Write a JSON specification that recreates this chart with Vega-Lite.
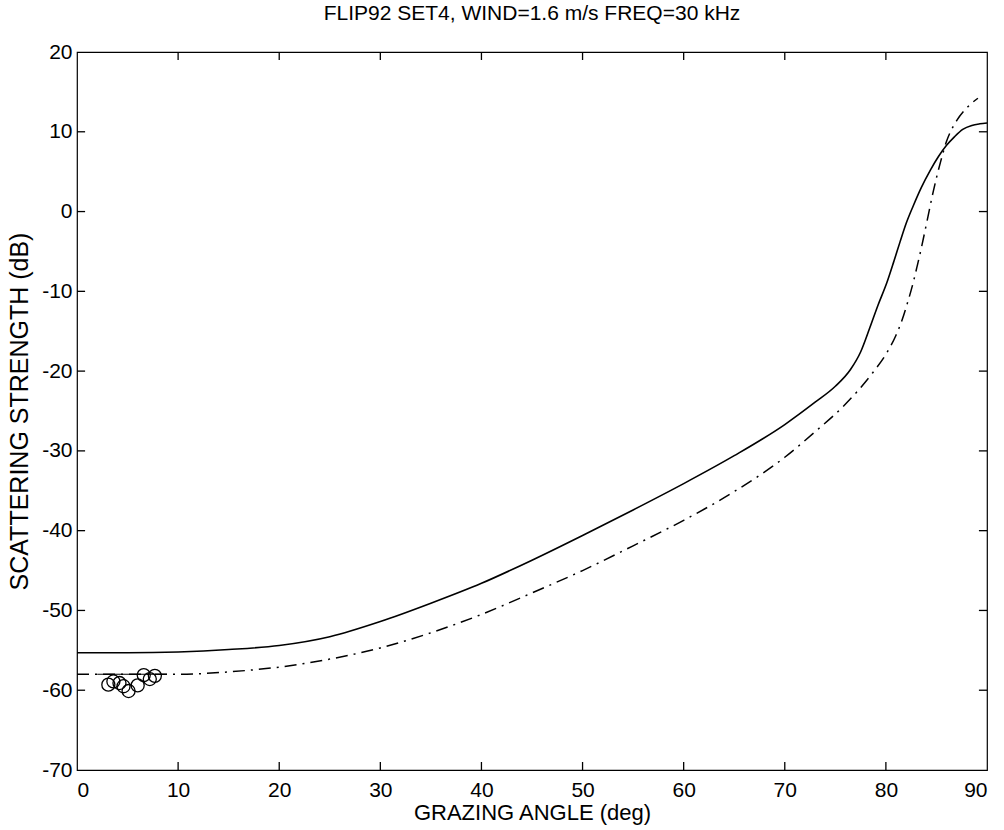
{
  "$schema": "https://vega.github.io/schema/vega-lite/v6.json",
  "width": 910,
  "height": 718,
  "autosize": "none",
  "padding": {"left": 77, "top": 52, "right": 17, "bottom": 60},
  "background": "white",
  "config": {
    "font": "Liberation Sans",
    "view": {"stroke": "black", "strokeWidth": 1.2},
    "axis": {"grid": false, "domain": false, "ticks": false, "labelColor": "black", "titleColor": "black", "labelFontSize": 21, "titleFontWeight": "normal"}
  },
  "title": {"text": "FLIP92 SET4, WIND=1.6 m/s FREQ=30 kHz", "fontSize": 21, "fontWeight": "normal", "font": "Liberation Sans", "color": "black", "offset": 17},
  "datasets": {
    "solid": [
      {"a": 0, "s": -55.3}, {"a": 5, "s": -55.3}, {"a": 10, "s": -55.2}, {"a": 15, "s": -54.9}, {"a": 20, "s": -54.4}, {"a": 25, "s": -53.3}, {"a": 30, "s": -51.4}, {"a": 35, "s": -49.1}, {"a": 40, "s": -46.6}, {"a": 45, "s": -43.7}, {"a": 50, "s": -40.6}, {"a": 55, "s": -37.4}, {"a": 60, "s": -34.1}, {"a": 65, "s": -30.6}, {"a": 70, "s": -26.7}, {"a": 73, "s": -23.9}, {"a": 75, "s": -21.9}, {"a": 76.5, "s": -19.8}, {"a": 77.5, "s": -17.6}, {"a": 78.4, "s": -14.6}, {"a": 79.2, "s": -11.8}, {"a": 80.1, "s": -8.9}, {"a": 80.8, "s": -6.2}, {"a": 81.4, "s": -3.8}, {"a": 82, "s": -1.5}, {"a": 82.7, "s": 0.7}, {"a": 83.5, "s": 3.0}, {"a": 84.4, "s": 5.2}, {"a": 85.2, "s": 6.9}, {"a": 86, "s": 8.3}, {"a": 86.8, "s": 9.4}, {"a": 87.6, "s": 10.3}, {"a": 88.5, "s": 10.8}, {"a": 89.3, "s": 11.0}, {"a": 90, "s": 11.1}
    ],
    "dashdot": [
      {"a": 0, "s": -58.0}, {"a": 5, "s": -58.0}, {"a": 10, "s": -58.0}, {"a": 15, "s": -57.7}, {"a": 20, "s": -57.1}, {"a": 25, "s": -56.1}, {"a": 30, "s": -54.7}, {"a": 35, "s": -52.8}, {"a": 40, "s": -50.5}, {"a": 45, "s": -47.8}, {"a": 50, "s": -45.0}, {"a": 55, "s": -41.9}, {"a": 60, "s": -38.7}, {"a": 65, "s": -35.1}, {"a": 70, "s": -30.8}, {"a": 73, "s": -27.6}, {"a": 75.8, "s": -24.4}, {"a": 78.7, "s": -20.2}, {"a": 80, "s": -17.9}, {"a": 81, "s": -15.5}, {"a": 81.6, "s": -13.6}, {"a": 82.1, "s": -11.6}, {"a": 82.7, "s": -8.9}, {"a": 83.1, "s": -6.8}, {"a": 83.5, "s": -4.6}, {"a": 84.1, "s": -1.0}, {"a": 84.7, "s": 2.6}, {"a": 85.4, "s": 6.2}, {"a": 86, "s": 8.8}, {"a": 86.5, "s": 10.3}, {"a": 87, "s": 11.4}, {"a": 88, "s": 13.0}, {"a": 89.1, "s": 14.2}
    ],
    "fit": [{"a": 2, "s": -58.0}, {"a": 8.9, "s": -58.0}],
    "obs": [
      {"a": 3.1, "s": -59.3}, {"a": 3.6, "s": -58.9}, {"a": 4.2, "s": -59.1}, {"a": 4.6, "s": -59.5}, {"a": 5.1, "s": -60.1}, {"a": 6.0, "s": -59.4}, {"a": 6.6, "s": -58.1}, {"a": 7.2, "s": -58.6}, {"a": 7.7, "s": -58.2}
    ],
    "ticks": [
      {"id": "b10", "a": 10, "s": -70}, {"id": "b10", "a": 10, "s": -69},
      {"id": "b20", "a": 20, "s": -70}, {"id": "b20", "a": 20, "s": -69},
      {"id": "b30", "a": 30, "s": -70}, {"id": "b30", "a": 30, "s": -69},
      {"id": "b40", "a": 40, "s": -70}, {"id": "b40", "a": 40, "s": -69},
      {"id": "b50", "a": 50, "s": -70}, {"id": "b50", "a": 50, "s": -69},
      {"id": "b60", "a": 60, "s": -70}, {"id": "b60", "a": 60, "s": -69},
      {"id": "b70", "a": 70, "s": -70}, {"id": "b70", "a": 70, "s": -69},
      {"id": "b80", "a": 80, "s": -70}, {"id": "b80", "a": 80, "s": -69},
      {"id": "t10", "a": 10, "s": 20}, {"id": "t10", "a": 10, "s": 19},
      {"id": "t20", "a": 20, "s": 20}, {"id": "t20", "a": 20, "s": 19},
      {"id": "t30", "a": 30, "s": 20}, {"id": "t30", "a": 30, "s": 19},
      {"id": "t40", "a": 40, "s": 20}, {"id": "t40", "a": 40, "s": 19},
      {"id": "t50", "a": 50, "s": 20}, {"id": "t50", "a": 50, "s": 19},
      {"id": "t60", "a": 60, "s": 20}, {"id": "t60", "a": 60, "s": 19},
      {"id": "t70", "a": 70, "s": 20}, {"id": "t70", "a": 70, "s": 19},
      {"id": "t80", "a": 80, "s": 20}, {"id": "t80", "a": 80, "s": 19},
      {"id": "l-60", "a": 0, "s": -60}, {"id": "l-60", "a": 0.8, "s": -60},
      {"id": "l-50", "a": 0, "s": -50}, {"id": "l-50", "a": 0.8, "s": -50},
      {"id": "l-40", "a": 0, "s": -40}, {"id": "l-40", "a": 0.8, "s": -40},
      {"id": "l-30", "a": 0, "s": -30}, {"id": "l-30", "a": 0.8, "s": -30},
      {"id": "l-20", "a": 0, "s": -20}, {"id": "l-20", "a": 0.8, "s": -20},
      {"id": "l-10", "a": 0, "s": -10}, {"id": "l-10", "a": 0.8, "s": -10},
      {"id": "l0", "a": 0, "s": 0}, {"id": "l0", "a": 0.8, "s": 0},
      {"id": "l10", "a": 0, "s": 10}, {"id": "l10", "a": 0.8, "s": 10},
      {"id": "r-60", "a": 90, "s": -60}, {"id": "r-60", "a": 89.2, "s": -60},
      {"id": "r-50", "a": 90, "s": -50}, {"id": "r-50", "a": 89.2, "s": -50},
      {"id": "r-40", "a": 90, "s": -40}, {"id": "r-40", "a": 89.2, "s": -40},
      {"id": "r-30", "a": 90, "s": -30}, {"id": "r-30", "a": 89.2, "s": -30},
      {"id": "r-20", "a": 90, "s": -20}, {"id": "r-20", "a": 89.2, "s": -20},
      {"id": "r-10", "a": 90, "s": -10}, {"id": "r-10", "a": 89.2, "s": -10},
      {"id": "r0", "a": 90, "s": 0}, {"id": "r0", "a": 89.2, "s": 0},
      {"id": "r10", "a": 90, "s": 10}, {"id": "r10", "a": 89.2, "s": 10}
    ]
  },
  "layer": [
    {
      "data": {"name": "solid"},
      "mark": {"type": "line", "color": "black", "strokeWidth": 1.6, "interpolate": "monotone"},
      "encoding": {
        "x": {"field": "a", "type": "quantitative", "scale": {"domain": [0, 90], "nice": false, "zero": false}, "axis": {"orient": "bottom", "values": [0, 10, 20, 30, 40, 50, 60, 70, 80, 90], "labelExpr": "'' + datum.value", "title": "GRAZING ANGLE (deg)", "titleFontSize": 22, "labelPadding": 9, "titlePadding": 2}},
        "y": {"field": "s", "type": "quantitative", "scale": {"domain": [-70, 20], "nice": false, "zero": false}, "axis": {"orient": "left", "values": [-70, -60, -50, -40, -30, -20, -10, 0, 10, 20], "labelExpr": "'' + datum.value", "title": "SCATTERING STRENGTH (dB)", "titleFontSize": 25, "labelPadding": 5, "titlePadding": 9}}
      }
    },
    {
      "data": {"name": "ticks"},
      "mark": {"type": "line", "color": "black", "strokeWidth": 1.3},
      "encoding": {
        "x": {"field": "a", "type": "quantitative"},
        "y": {"field": "s", "type": "quantitative"},
        "detail": {"field": "id", "type": "nominal"}
      }
    },
    {
      "data": {"name": "dashdot"},
      "mark": {"type": "line", "color": "black", "strokeWidth": 1.5, "strokeDash": [12, 6, 2, 6], "interpolate": "monotone"},
      "encoding": {
        "x": {"field": "a", "type": "quantitative"},
        "y": {"field": "s", "type": "quantitative"}
      }
    },
    {
      "data": {"name": "fit"},
      "mark": {"type": "line", "color": "black", "strokeWidth": 1.2},
      "encoding": {
        "x": {"field": "a", "type": "quantitative"},
        "y": {"field": "s", "type": "quantitative"}
      }
    },
    {
      "data": {"name": "obs"},
      "mark": {"type": "point", "shape": "circle", "filled": false, "color": "black", "opacity": 1, "strokeWidth": 1.3, "size": 170},
      "encoding": {
        "x": {"field": "a", "type": "quantitative"},
        "y": {"field": "s", "type": "quantitative"}
      }
    }
  ]
}
